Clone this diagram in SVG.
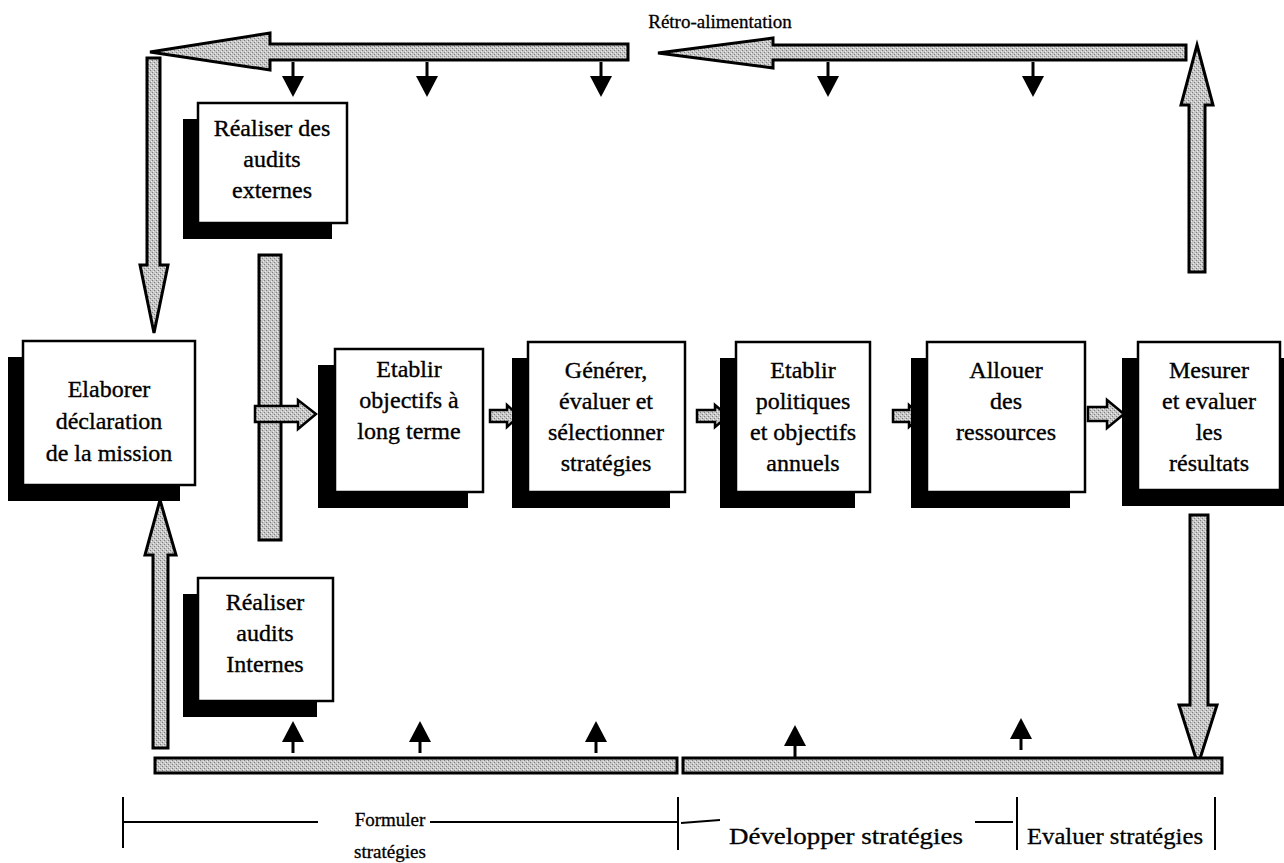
<svg xmlns="http://www.w3.org/2000/svg" width="1284" height="863" viewBox="0 0 1284 863">
<defs>
<pattern id="speck" width="4" height="4" patternUnits="userSpaceOnUse">
<rect width="4" height="4" fill="#c6c6c6"/>
<rect x="0" y="0" width="1" height="1" fill="#7e7e7e"/>
<rect x="2" y="2" width="1" height="1" fill="#7e7e7e"/>
<rect x="3" y="1" width="1" height="1" fill="#eeeeee"/>
<rect x="1" y="3" width="1" height="1" fill="#eeeeee"/>
</pattern>
</defs>
<style>
.big{fill:url(#speck);stroke:#000;stroke-width:3;stroke-linejoin:miter}
.sm{fill:url(#speck);stroke:#000;stroke-width:2.5;stroke-linejoin:miter}
.blk{fill:#000;stroke:none}
.stem{stroke:#000;stroke-width:3}
.box{fill:#fff;stroke:#000;stroke-width:2.5}
.shd{fill:#000}
.t{font-family:"Liberation Serif","Times New Roman",serif;font-size:24px;fill:#000;stroke:#000;stroke-width:0.35;text-anchor:middle}
.lab{font-family:"Liberation Serif","Times New Roman",serif;font-size:19px;fill:#000;stroke:#000;stroke-width:0.3;text-anchor:middle}
.lab2{font-family:"Liberation Serif","Times New Roman",serif;font-size:23px;fill:#000;stroke:#000;stroke-width:0.3}
.ln{stroke:#000;stroke-width:2;fill:none}
</style>
<rect width="1284" height="863" fill="#fff"/>

<g id="connectors">
<polygon class="big" points="150,52 270,33 270,44 628,44 628,60 270,60 270,70"/>
<polygon class="big" points="658,53 773,38 773,45 1186,45 1186,60 773,60 773,68"/>
<polygon class="big" points="1197,45 1213,105 1205,105 1205,272 1189,272 1189,105 1181,105"/>
<polygon class="big" points="147,58 160,58 160,265 168,265 154,333 140,265 147,265"/>
<rect class="big" x="259" y="255" width="22" height="285"/>
<polygon class="sm" points="255,406 298,406 298,400 316,414 298,429 298,422 255,422"/>
<polygon class="sm" points="490,410 507,410 507,405 519,416 507,427 507,422 490,422"/>
<polygon class="sm" points="697,410 715,410 715,405 728,416 715,427 715,422 697,422"/>
<polygon class="sm" points="893,410 909,410 909,405 921,416 909,427 909,422 893,422"/>
<polygon class="sm" points="1088,407 1107,407 1107,400 1124,414 1107,428 1107,421 1088,421"/>
<polygon class="big" points="1190,515 1208,515 1208,705 1217,705 1198,765 1179,705 1190,705"/>
<polygon class="big" points="153,748 168,748 168,555 176,555 160,500 145,555 153,555"/>
<rect class="big" x="155" y="758" width="522" height="15"/>
<rect class="big" x="683" y="758" width="539" height="15"/>
<g>
<line class="stem" x1="293" y1="62" x2="293" y2="77"/><polygon class="blk" points="282,76 304,76 293,97"/>
<line class="stem" x1="427" y1="62" x2="427" y2="77"/><polygon class="blk" points="416,76 438,76 427,97"/>
<line class="stem" x1="601" y1="62" x2="601" y2="77"/><polygon class="blk" points="590,76 612,76 601,97"/>
<line class="stem" x1="828" y1="62" x2="828" y2="77"/><polygon class="blk" points="817,76 839,76 828,97"/>
<line class="stem" x1="1033" y1="62" x2="1033" y2="77"/><polygon class="blk" points="1022,76 1044,76 1033,97"/>
</g>
<g>
<line class="stem" x1="293" y1="740" x2="293" y2="753"/><polygon class="blk" points="282,742 304,742 293,721"/>
<line class="stem" x1="420" y1="740" x2="420" y2="753"/><polygon class="blk" points="409,742 431,742 420,721"/>
<line class="stem" x1="596" y1="740" x2="596" y2="753"/><polygon class="blk" points="585,742 607,742 596,721"/>
<line class="stem" x1="795" y1="744" x2="795" y2="757"/><polygon class="blk" points="784,746 806,746 795,725"/>
<line class="stem" x1="1021" y1="737" x2="1021" y2="750"/><polygon class="blk" points="1010,739 1032,739 1021,718"/>
</g>
</g>

<text class="lab" x="720" y="28">Rétro-alimentation</text>

<g id="node-externes">
<rect class="shd" x="183" y="119" width="149" height="120"/>
<rect class="box" x="198" y="103" width="149" height="120"/>
<text class="t" x="272" y="136">Réaliser des</text>
<text class="t" x="272" y="167">audits</text>
<text class="t" x="272" y="198">externes</text>
</g>

<g id="node-mission">
<rect class="shd" x="8" y="357" width="172" height="144"/>
<rect class="box" x="23" y="341" width="172" height="144"/>
<text class="t" x="109" y="397">Elaborer</text>
<text class="t" x="109" y="429">déclaration</text>
<text class="t" x="109" y="461">de la mission</text>
</g>

<g id="node-objectifs">
<rect class="shd" x="318" y="365" width="150" height="143"/>
<rect class="box" x="335" y="349" width="148" height="143"/>
<text class="t" x="409" y="377">Etablir</text>
<text class="t" x="409" y="408">objectifs à</text>
<text class="t" x="409" y="439">long terme</text>
</g>

<g id="node-generer">
<rect class="shd" x="512" y="358" width="158" height="150"/>
<rect class="box" x="528" y="342" width="157" height="150"/>
<text class="t" x="606" y="378">Générer,</text>
<text class="t" x="606" y="409">évaluer et</text>
<text class="t" x="606" y="440">sélectionner</text>
<text class="t" x="606" y="471">stratégies</text>
</g>

<g id="node-politiques">
<rect class="shd" x="720" y="358" width="135" height="150"/>
<rect class="box" x="736" y="342" width="134" height="150"/>
<text class="t" x="803" y="378">Etablir</text>
<text class="t" x="803" y="409">politiques</text>
<text class="t" x="803" y="440">et objectifs</text>
<text class="t" x="803" y="471">annuels</text>
</g>

<g id="node-allouer">
<rect class="shd" x="911" y="358" width="159" height="150"/>
<rect class="box" x="927" y="342" width="158" height="150"/>
<text class="t" x="1006" y="378">Allouer</text>
<text class="t" x="1006" y="409">des</text>
<text class="t" x="1006" y="440">ressources</text>
</g>

<g id="node-mesurer">
<rect class="shd" x="1122" y="358" width="162" height="148"/>
<rect class="box" x="1138" y="342" width="142" height="148"/>
<text class="t" x="1209" y="378">Mesurer</text>
<text class="t" x="1209" y="409">et evaluer</text>
<text class="t" x="1209" y="440">les</text>
<text class="t" x="1209" y="471">résultats</text>
</g>

<g id="node-internes">
<rect class="shd" x="183" y="594" width="134" height="123"/>
<rect class="box" x="198" y="578" width="135" height="123"/>
<text class="t" x="265" y="610">Réaliser</text>
<text class="t" x="265" y="641">audits</text>
<text class="t" x="265" y="672">Internes</text>
</g>

<g id="phases">
<line class="ln" x1="123" y1="797" x2="123" y2="848"/>
<line class="ln" x1="123" y1="822" x2="318" y2="822"/>
<text class="lab" x="390" y="826">Formuler</text>
<text class="lab" x="390" y="858">stratégies</text>
<line class="ln" x1="430" y1="822" x2="678" y2="822"/>
<line class="ln" x1="678" y1="797" x2="678" y2="850"/>
<line class="ln" x1="681" y1="823" x2="720" y2="820"/>
<text class="lab2" x="729" y="844" textLength="234" lengthAdjust="spacingAndGlyphs">Développer stratégies</text>
<line class="ln" x1="975" y1="822" x2="1013" y2="822"/>
<line class="ln" x1="1017" y1="797" x2="1017" y2="850"/>
<text class="lab2" x="1027" y="844" textLength="176" lengthAdjust="spacingAndGlyphs">Evaluer stratégies</text>
<line class="ln" x1="1215" y1="797" x2="1215" y2="850"/>
</g>
</svg>
